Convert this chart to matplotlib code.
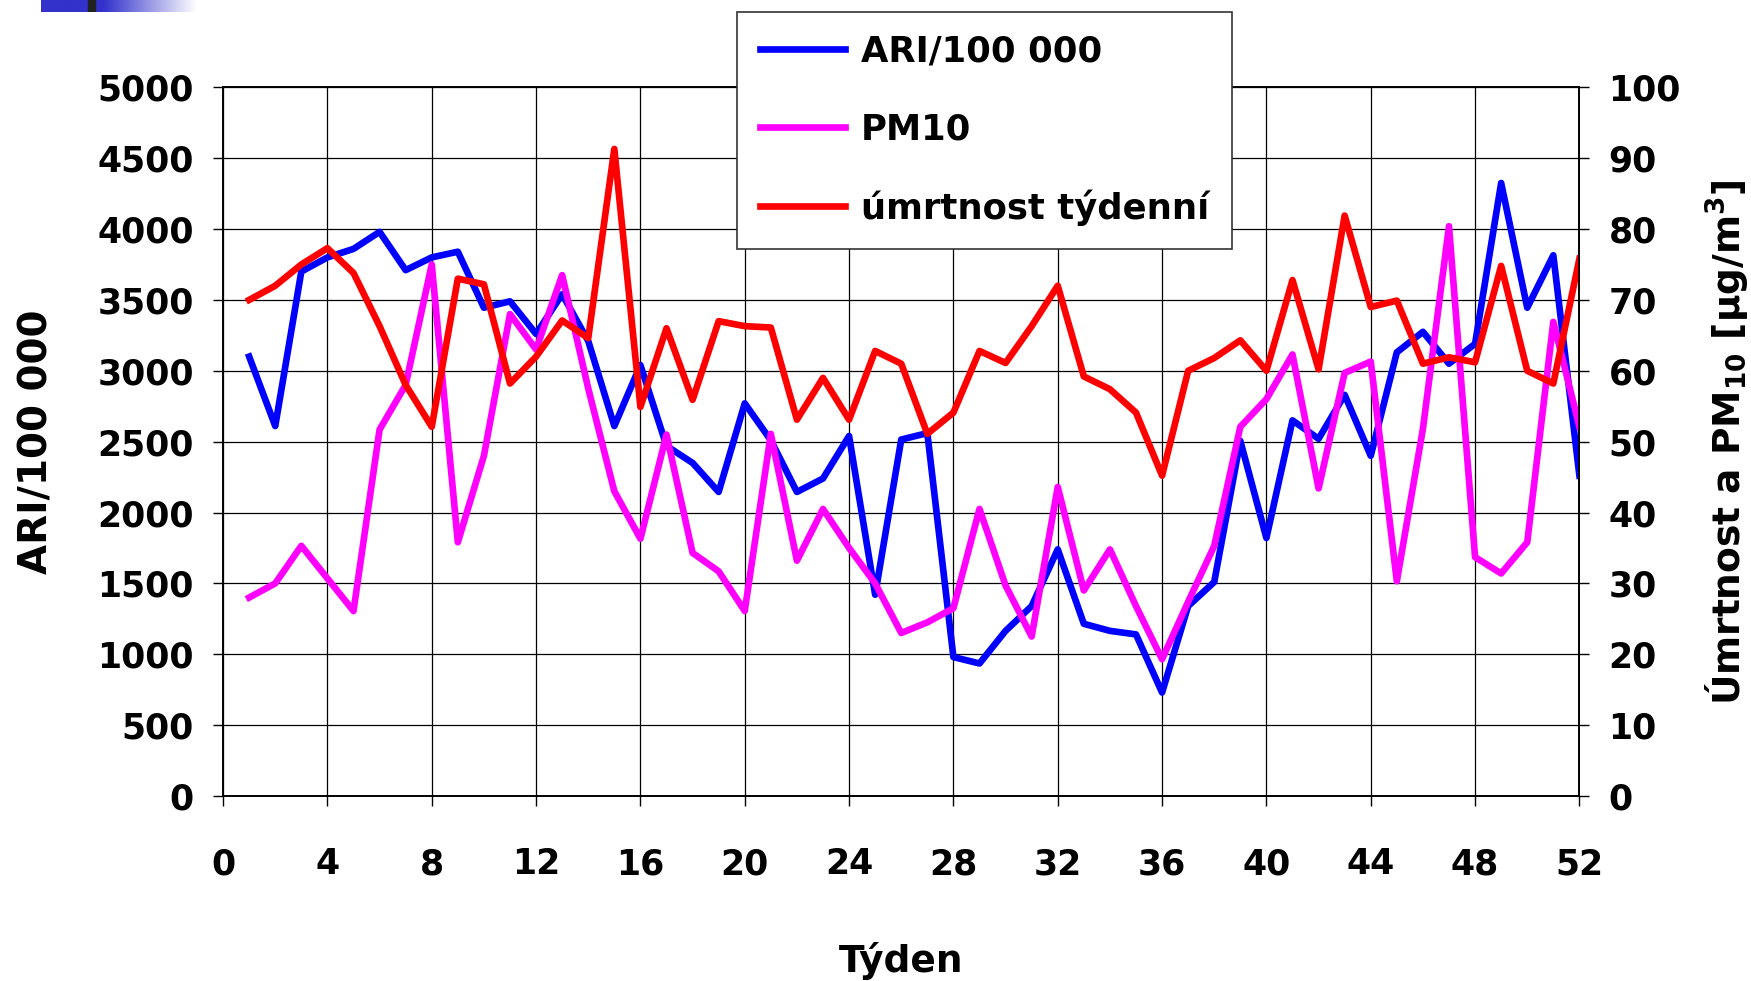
import numpy as np
import matplotlib
matplotlib.use('Agg')
import matplotlib.pyplot as plt

# weekly data
weeks = list(range(1, 53))
ari = [3100, 2610, 3700, 3800, 3860, 3980, 3710, 3800, 3840, 3445,
       3490, 3260, 3540, 3210, 2610, 3040, 2470, 2350, 2145, 2770,
       2510, 2145, 2240, 2540, 1420, 2515, 2560, 980, 935, 1165,
       1340, 1740, 1215, 1165, 1140, 730, 1340, 1510, 2505, 1820,
       2650, 2520, 2830, 2400, 3130, 3275, 3050, 3190, 4325, 3445,
       3815, 2260]
pm10 = [28, 30, 35.3, 30.7, 26.1, 51.7, 58, 75, 35.8, 48,
        68, 63, 73.5, 57.5, 43, 36.3, 51, 34.3, 31.7, 26.1,
        51.1, 33.2, 40.5, 35, 30, 23, 24.5, 26.5, 40.5, 29.7,
        22.5, 43.6, 29, 34.8, 26.8, 19.3, 27.4, 35.3, 52.1, 56,
        62.3, 43.4, 59.7, 61.3, 30.3, 51.8, 80.4, 33.7, 31.4, 35.8,
        66.9, 52.1]
mortality = [70, 72, 75, 77.3, 73.8, 66.3, 58, 52.1, 73, 72.2,
             58.2, 62, 67.1, 64.6, 91.3, 54.9, 66, 55.9, 67, 66.3,
             66.1, 53.1, 59, 53.1, 62.8, 61, 51.1, 54.1, 62.8, 61.1,
             66.3, 72, 59.2, 57.4, 54.1, 45.2, 60, 61.8, 64.3, 60,
             72.8, 60.2, 81.9, 69, 69.9, 61, 61.9, 61.2, 74.8, 60,
             58.2, 75.8]

x_ticks = list(range(0, 53, 4))

plt.rcParams['font.family'] = 'DejaVu Sans'
plt.rcParams['font.weight'] = 'bold'
plt.rcParams['mathtext.default'] = 'bf'

fig = plt.figure(figsize=(17.51, 9.81), dpi=100)
ax = fig.add_axes([0.1274, 0.1886, 0.902 - 0.1274, 0.911 - 0.1886])
ax2 = ax.twinx()

l1, = ax.plot(weeks, ari, color='#0000FF', lw=4.8, label='ARI/100 000')
l2, = ax2.plot(weeks, pm10, color='#FF00FF', lw=4.8, label='PM10')
l3, = ax2.plot(weeks, mortality, color='#FF0000', lw=4.8,
               label='úmrtnost týdenní')

ax.set_xlim(0, 52)
ax.set_ylim(0, 5000)
ax2.set_ylim(0, 100)
ax.set_xticks(x_ticks)
ax.set_yticks(range(0, 5001, 500))
ax2.set_yticks(range(0, 101, 10))
ax.grid(True, color='black', lw=0.9)
ax.set_axisbelow(True)

ax.tick_params(axis='x', labelsize=25, length=7, pad=30, width=1)
ax.tick_params(axis='y', labelsize=25, length=7, pad=14, width=1)
ax2.tick_params(axis='y', labelsize=25, length=7, pad=14, width=1)
for a in (ax, ax2):
    for s in a.spines.values():
        s.set_linewidth(1.2)

ax.set_xlabel('Týden', fontsize=27, fontweight='bold', labelpad=44)
ax.set_ylabel('ARI/100 000', fontsize=28, fontweight='bold', labelpad=30)
ax2.set_ylabel('Úmrtnost a PM$_{10}$ [$\\mu$g/m$^{3}$]', fontsize=27,
               fontweight='bold', labelpad=16)

leg = ax2.legend(handles=[l1, l2, l3], loc='upper left',
                 bbox_to_anchor=(0.421, 0.988), bbox_transform=fig.transFigure,
                 fontsize=25.5, frameon=True, fancybox=False, framealpha=1,
                 edgecolor='#333333', borderpad=0.65, handlelength=2.4,
                 handletextpad=0.45, labelspacing=1.22, borderaxespad=0)
leg.get_frame().set_linewidth(1.2)
leg.set_zorder(10)

# slide decoration in the top-left corner
deco = fig.add_axes([41 / 1751, 1 - 12 / 981, 155 / 1751, 12 / 981])
grad = np.ones((1, 200))
grad[0, 80:] = np.linspace(1, 0, 120)
cmap = matplotlib.colors.LinearSegmentedColormap.from_list('d', ['#FFFFFF', '#3333CC'])
deco.imshow(grad, aspect='auto', cmap=cmap, extent=(0, 155, 0, 1))
deco.axvspan(47, 54, color='#222222')
deco.set_xlim(0, 155)
deco.axis('off')

fig.savefig('out.png', dpi=100)
